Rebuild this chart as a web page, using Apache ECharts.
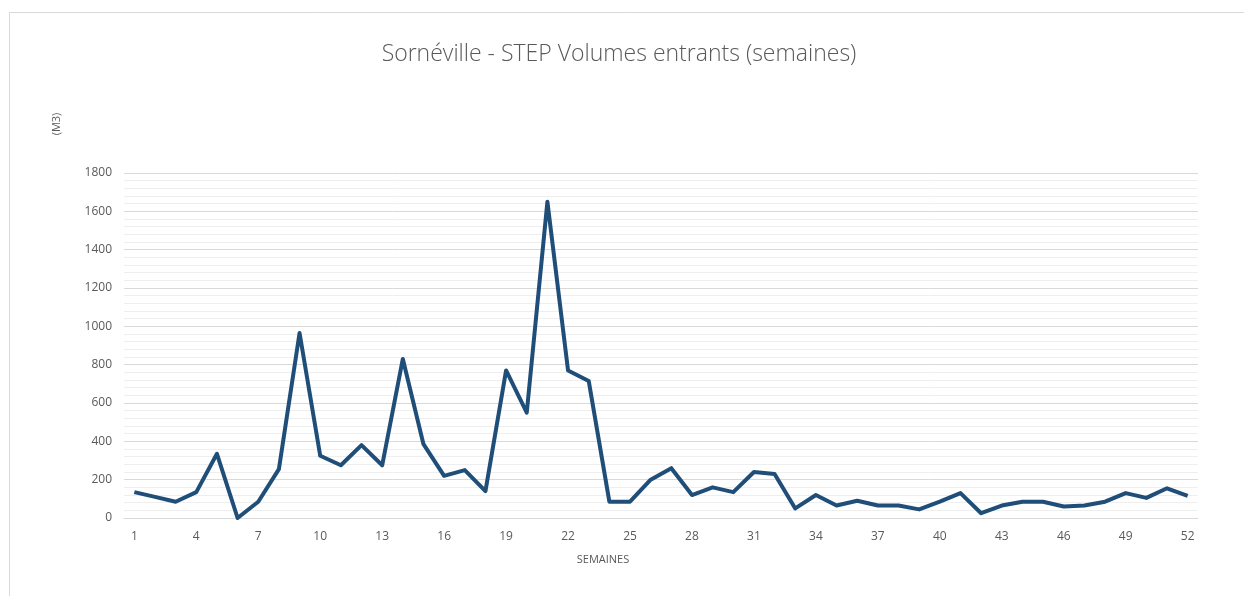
<!DOCTYPE html>
<html>
<head>
<meta charset="utf-8">
<script src="https://cdn.jsdelivr.net/npm/echarts@6/dist/echarts.min.js"></script>
<style>html,body{margin:0;padding:0;background:#fff;}#c{width:1244px;height:596px;}</style>
</head>
<body>
<div id="c"></div>
<script>
const weeks = Array.from({length: 52}, (_, i) => String(i + 1));
const volumes = [135, 110, 85, 135, 335, 0, 85, 255, 965, 325,
  275, 380, 275, 830, 385, 220, 250, 140, 770, 550,
  1650, 770, 715, 85, 85, 200, 260, 120, 160, 135,
  240, 230, 50, 120, 65, 90, 65, 65, 45, 85,
  130, 25, 65, 85, 85, 60, 65, 85, 130, 105,
  155, 115];
const titleText = 'Sornéville - STEP Volumes entrants (semaines)';
const yName = '(M3)';
const xName = 'SEMAINES';

const chart = echarts.init(document.getElementById('c'));
chart.setOption({
  animation: false,
  backgroundColor: '#fff',
  title: {
    text: titleText,
    left: 614, top: 38, textAlign: 'center',
    textStyle: {fontFamily: 'Open Sans', fontWeight: 300, fontSize: 23, color: '#595959'}
  },
  grid: {left: 124, right: 46, top: 173, bottom: 78},
  xAxis: {
    type: 'category', data: weeks, boundaryGap: true,
    axisLine: {lineStyle: {color: '#d9d9d9', width: 1}},
    axisTick: {show: false},
    axisLabel: {interval: 2, color: '#595959', fontSize: 12, fontFamily: 'Open Sans', margin: 13}
  },
  yAxis: {
    type: 'value', min: 0, max: 1800, interval: 200,
    axisLine: {show: false}, axisTick: {show: false},
    axisLabel: {color: '#595959', fontSize: 12, fontFamily: 'Open Sans', margin: 12,
      formatter: v => String(v)},
    splitLine: {lineStyle: {color: '#d9d9d9', width: 1}},
    minorTick: {show: false, splitNumber: 5},
    minorSplitLine: {show: true, lineStyle: {color: '#eeeeee', width: 1}}
  },
  series: [{
    type: 'line', data: volumes, symbol: 'none',
    lineStyle: {color: '#1f4e79', width: 4, join: 'round'}
  }],
  graphic: [
    {type: 'rect', shape: {x: 9.5, y: 12.5, width: 1300, height: 700}, style: {fill: 'none', stroke: '#d9d9d9', lineWidth: 1}, silent: true},
    {type: 'text', x: 57, y: 124, rotation: Math.PI / 2, style: {text: yName, fill: '#595959', fontSize: 11, fontFamily: 'Open Sans', align: 'center', verticalAlign: 'middle'}},
    {type: 'text', x: 603, y: 560, style: {text: xName, fill: '#595959', fontSize: 11, fontFamily: 'Open Sans', align: 'center', verticalAlign: 'middle'}}
  ]
});
</script>
</body>
</html>
